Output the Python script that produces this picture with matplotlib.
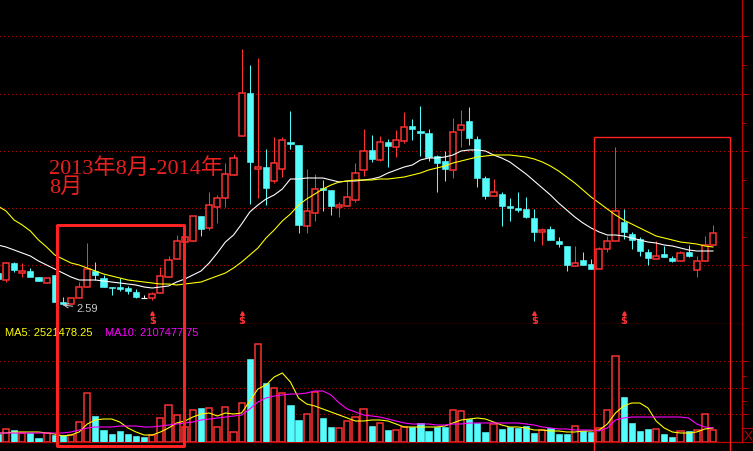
import matplotlib
matplotlib.use("Agg")
import matplotlib.pyplot as plt
from matplotlib.patches import Rectangle
from matplotlib.lines import Line2D
from matplotlib.transforms import blended_transform_factory

# ---- data ----
idx = list(range(-1, 88))

opens = [2.91, 2.84, 3.01, 2.91, 2.93, 2.87, 2.81, 2.89, 2.62, 2.60, 2.66,
         2.77, 2.93, 2.86, 2.77, 2.77, 2.76, 2.72, 2.66, 2.66, 2.71,
         2.87, 3.05, 3.22, 3.23, 3.48, 3.36, 3.57, 3.66, 3.89, 4.28,
         4.71, 3.95, 3.97, 3.83, 3.95, 4.22, 4.19, 3.38, 3.51, 3.76,
         3.74, 3.57, 3.58, 3.64, 3.94, 4.14, 4.04, 4.22, 4.17, 4.23,
         4.38, 4.33, 4.31, 4.08, 4.03, 3.94, 4.34, 4.43, 4.25, 3.86,
         3.68, 3.70, 3.58, 3.56, 3.55, 3.46, 3.32, 3.35, 3.23, 3.18,
         2.98, 3.04, 3.00, 2.95, 3.15, 3.23, 3.42, 3.30, 3.25, 3.12,
         3.05, 3.10, 3.06, 3.03, 3.12, 2.94, 3.03, 3.19]
highs = [2.92, 3.02, 3.02, 3.01, 2.96, 2.87, 2.86, 2.89, 2.67, 2.66, 2.82,
         3.21, 3.02, 2.89, 2.77, 2.86, 2.78, 2.75, 2.69, 2.72, 2.97,
         3.08, 3.29, 3.33, 3.48, 3.48, 3.72, 3.69, 4.01, 4.10, 5.15,
         4.99, 5.06, 4.15, 4.27, 4.27, 4.53, 4.19, 3.95, 3.90, 3.84,
         3.74, 3.62, 3.83, 4.01, 4.35, 4.29, 4.28, 4.25, 4.34, 4.52,
         4.45, 4.58, 4.35, 4.09, 4.13, 4.46, 4.54, 4.57, 4.28, 3.88,
         3.85, 3.72, 3.66, 3.72, 3.67, 3.55, 3.36, 3.38, 3.27, 3.18,
         3.18, 3.12, 3.05, 3.17, 3.28, 4.17, 3.55, 3.32, 3.27, 3.15,
         3.23, 3.18, 3.08, 3.13, 3.19, 3.08, 3.28, 3.39]
lows = [2.84, 2.82, 2.92, 2.87, 2.87, 2.83, 2.81, 2.62, 2.59, 2.60, 2.66,
        2.77, 2.84, 2.77, 2.69, 2.73, 2.70, 2.66, 2.66, 2.64, 2.71,
        2.87, 3.05, 3.20, 3.23, 3.28, 3.34, 3.41, 3.57, 3.89, 4.28,
        3.60, 3.66, 3.59, 3.81, 3.87, 4.15, 3.31, 3.31, 3.43, 3.53,
        3.49, 3.47, 3.58, 3.62, 3.88, 4.02, 4.03, 3.97, 4.07, 4.21,
        4.24, 4.08, 4.03, 3.72, 3.83, 3.86, 4.17, 4.19, 3.77, 3.65,
        3.68, 3.38, 3.43, 3.52, 3.46, 3.23, 3.19, 3.24, 3.17, 2.93,
        2.98, 2.99, 2.95, 2.95, 3.12, 3.23, 3.25, 3.15, 3.08, 2.99,
        3.05, 3.07, 3.02, 3.03, 3.07, 2.87, 3.03, 3.19]
closes = [2.85, 3.01, 2.94, 2.93, 2.87, 2.83, 2.86, 2.62, 2.60, 2.66, 2.77,
          2.95, 2.89, 2.77, 2.76, 2.75, 2.73, 2.67, 2.66, 2.70, 2.88,
          3.04, 3.23, 3.27, 3.48, 3.35, 3.59, 3.66, 3.90, 4.06, 4.71,
          4.02, 3.97, 3.76, 4.01, 4.24, 4.20, 3.39, 3.53, 3.75, 3.74,
          3.58, 3.59, 3.67, 3.91, 4.13, 4.05, 4.22, 4.18, 4.24, 4.37,
          4.35, 4.31, 4.07, 4.01, 3.95, 4.32, 4.39, 4.26, 3.86, 3.68,
          3.72, 3.58, 3.56, 3.54, 3.47, 3.32, 3.34, 3.24, 3.20, 2.99,
          3.01, 2.99, 2.95, 3.15, 3.23, 3.53, 3.32, 3.24, 3.13, 3.06,
          3.08, 3.07, 3.03, 3.11, 3.08, 3.03, 3.19, 3.31]

ma_white = [3.19, 3.17, 3.14, 3.11, 3.08, 3.03, 2.99, 2.95, 2.91, 2.87, 2.84,
            2.84, 2.84, 2.83, 2.82, 2.81, 2.80, 2.79, 2.77, 2.76, 2.77,
            2.78, 2.82, 2.85, 2.89, 2.93, 3.01, 3.11, 3.22, 3.29, 3.40,
            3.52, 3.59, 3.65, 3.69, 3.75, 3.85, 3.85, 3.86, 3.86, 3.86,
            3.84, 3.82, 3.83, 3.83, 3.84, 3.85, 3.87, 3.91, 3.94, 3.97,
            3.99, 4.04, 4.06, 4.06, 4.07, 4.09, 4.13, 4.14, 4.14, 4.13,
            4.09, 4.06, 4.02, 3.96, 3.90, 3.83, 3.76, 3.69, 3.61, 3.54,
            3.47, 3.41, 3.36, 3.32, 3.29, 3.29, 3.28, 3.26, 3.24, 3.22,
            3.21, 3.19, 3.18, 3.16, 3.14, 3.13, 3.13, 3.13]
ma_yellow = [3.58, 3.53, 3.44, 3.39, 3.33, 3.24, 3.17, 3.09, 3.05, 3.01, 2.99,
             2.96, 2.93, 2.90, 2.88, 2.86, 2.84, 2.83, 2.82, 2.81, 2.80,
             2.80, 2.79, 2.80, 2.81, 2.82, 2.85, 2.88, 2.91, 2.96, 3.02,
             3.09, 3.16, 3.26, 3.34, 3.43, 3.50, 3.59, 3.65, 3.70, 3.75,
             3.79, 3.82, 3.83, 3.84, 3.84, 3.84, 3.85, 3.85, 3.86, 3.87,
             3.89, 3.91, 3.94, 3.96, 3.98, 4.01, 4.03, 4.05, 4.07, 4.08,
             4.09, 4.09, 4.09, 4.08, 4.07, 4.05, 4.02, 3.98, 3.93, 3.87,
             3.81, 3.74, 3.67, 3.61, 3.55, 3.49, 3.44, 3.40, 3.36, 3.32,
             3.28, 3.26, 3.24, 3.22, 3.21, 3.20, 3.18, 3.17]

volume = [0.8, 1.3, 1.2, 0.9, 0.9, 0.4, 0.9, 0.7, 0.7, 0.7, 2.0,
          4.9, 2.6, 1.2, 0.8, 1.1, 0.8, 0.6, 0.5, 0.7, 2.4,
          3.7, 2.7, 1.5, 3.2, 3.4, 3.4, 1.5, 3.5, 1.0, 3.9,
          8.3, 9.8, 5.9, 5.4, 4.9, 3.7, 2.2, 2.8, 5.0, 2.4,
          1.5, 1.4, 2.1, 2.5, 3.3, 1.6, 1.9, 1.2, 1.2, 1.5,
          1.5, 1.9, 1.1, 1.5, 1.5, 3.2, 3.1, 2.3, 1.9, 1.0,
          1.8, 1.3, 1.5, 1.4, 1.6, 0.9, 1.2, 1.4, 0.8, 0.8,
          1.6, 1.1, 1.0, 1.4, 3.2, 8.6, 4.5, 1.9, 1.1, 1.3,
          1.3, 0.8, 0.5, 1.1, 1.1, 1.2, 2.8, 1.2]
vol_ma5 = [0.9, 0.9, 1.0, 1.0, 1.0, 1.0, 0.9, 0.8, 0.6, 0.7, 1.0,
           1.8, 2.2, 2.3, 2.3, 2.0, 1.4, 1.0, 0.7, 0.7, 1.0,
           1.4, 1.9, 2.1, 2.5, 2.8, 2.9, 2.6, 2.9, 2.8, 2.9,
           4.1, 5.3, 5.7, 6.5, 6.9, 6.0, 4.4, 3.8, 3.6, 3.3,
           3.0, 2.7, 2.4, 2.1, 2.1, 2.2, 2.2, 2.1, 1.8, 1.5,
           1.5, 1.5, 1.5, 1.5, 1.6, 1.9, 2.2, 2.3, 2.4, 2.3,
           2.0, 1.7, 1.5, 1.5, 1.4, 1.2, 1.2, 1.1, 1.1, 1.0,
           1.0, 1.1, 1.1, 1.2, 1.8, 2.9, 3.6, 3.9, 3.9, 3.4,
           2.1, 1.4, 1.0, 0.9, 0.9, 1.0, 1.3, 1.4]
vol_ma10 = [0.9, 0.9, 0.9, 0.9, 0.9, 0.9, 0.9, 0.9, 0.9, 1.0, 1.2,
            1.4, 1.5, 1.5, 1.5, 1.6, 1.6, 1.6, 1.5, 1.5, 1.6,
            1.7, 1.8, 1.9, 2.0, 2.2, 2.3, 2.4, 2.5, 2.6, 2.7,
            3.3, 4.0, 4.4, 4.6, 4.7, 4.8, 4.8, 4.9, 5.1, 5.1,
            4.7, 3.9, 3.3, 3.0, 2.7, 2.6, 2.5, 2.3, 2.1, 1.9,
            1.8, 1.8, 1.8, 1.7, 1.7, 1.8, 1.8, 1.9, 1.9, 1.9,
            1.9, 1.9, 1.9, 1.9, 1.8, 1.7, 1.5, 1.4, 1.3, 1.3,
            1.2, 1.2, 1.2, 1.1, 1.4, 2.2, 2.4, 2.5, 2.5, 2.5,
            2.5, 2.5, 2.5, 2.5, 2.4, 1.8, 1.5, 1.4]

signal_days = [18, 29, 65, 76]
low_day = 7
low_label = "2.59"
period_text = ["2013年8月-2014年", "8月"]
ma_legend = ["MA5: 2521478.25", "MA10: 2107477.75"]

price_grid = [2.99, 3.56, 4.13, 4.70, 5.28]
price_minor = [3.27, 3.84, 4.41, 4.99]
vol_grid = [2.8, 5.4, 8.1]
vol_minor = [4.1, 6.6]

# ---- style ----
RED = "#ff3232"
CYAN = "#54fcfc"
DARKRED = "#c00000"
GRIDRED = "#b00000"
W, H = 753, 452
px = 0.72  # one pixel in points

fig = plt.figure(figsize=(W / 100, H / 100), dpi=100, facecolor="black")
ax1 = fig.add_axes([0, 127 / H, 742 / W, 325 / H], facecolor="black")
ax2 = fig.add_axes([0, 9 / H, 742 / W, 118 / H], facecolor="black", sharex=ax1)

xmin, xmax = -0.738, 90.57
ax1.set_xlim(xmin, xmax)
ax1.set_ylim(2.40, 5.65)
ax2.set_ylim(0, 11.8)

bw = 0.76
for i, o, h, l, c in zip(idx, opens, highs, lows, closes):
    if c > o:
        col = RED
    elif c < o:
        col = CYAN
    else:
        col = "white"
    lo_b, hi_b = min(o, c), max(o, c)
    ax1.vlines(i, l, h, color=col, lw=px, zorder=2)
    if col == "white":
        ax1.hlines(o, i - bw / 2, i + bw / 2, color=col, lw=1.2 * px, zorder=3)
    elif col == RED:
        ax1.add_patch(Rectangle((i - bw / 2, lo_b), bw, hi_b - lo_b, facecolor="black",
                                edgecolor=col, lw=1.5 * px, zorder=3))
    else:
        ax1.add_patch(Rectangle((i - bw / 2, lo_b), bw, max(hi_b - lo_b, 0.012),
                                facecolor=col, edgecolor=col, lw=0.6 * px, zorder=3))

ax1.plot(idx, ma_white, color="white", lw=1.1 * px, zorder=4)
ax1.plot(idx, ma_yellow, color="#ffff00", lw=1.1 * px, zorder=4)

for i, o, c, v in zip(idx, opens, closes, volume):
    if c > o:
        ax2.add_patch(Rectangle((i - bw / 2, 0), bw, v, facecolor="black",
                                edgecolor=RED, lw=1.5 * px, zorder=3))
    else:
        ax2.add_patch(Rectangle((i - bw / 2, 0), bw, v, facecolor=CYAN,
                                edgecolor=CYAN, lw=0.6 * px, zorder=3))
ax2.plot(idx, vol_ma5, color="#ffff00", lw=1.1 * px, zorder=4)
ax2.plot(idx, vol_ma10, color="#ff00ff", lw=1.1 * px, zorder=4)

# grid + axes cosmetics
for ax, grid, minor in ((ax1, price_grid, price_minor), (ax2, vol_grid, vol_minor)):
    for g in grid:
        ax.axhline(g, color=GRIDRED, lw=px, ls=(0, (1, 3)), antialiased=False, zorder=1)
    ax.set_xticks([])
    ax.yaxis.tick_right()
    ax.set_yticks(grid)
    ax.set_yticks(minor, minor=True)
    ax.tick_params(axis="y", which="major", length=4, width=px, color=DARKRED,
                   labelright=False, direction="out")
    ax.tick_params(axis="y", which="minor", length=3, width=px, color=DARKRED,
                   labelright=False, direction="out")
    for s in ("top", "left"):
        ax.spines[s].set_visible(False)
    ax.spines["right"].set_color(DARKRED)
    ax.spines["right"].set_linewidth(1.3 * px)
    ax.spines["bottom"].set_color(DARKRED)
    ax.spines["bottom"].set_linewidth(1.3 * px)

# signal markers
for d in signal_days:
    ax1.text(d, 2.445, "$", color=RED, fontsize=7, fontweight="bold",
             ha="center", va="center", zorder=5)
    ax1.plot(d, 2.515, marker="^", ms=2.6, color=RED, mec=RED, zorder=5)

# low annotation
ax1.annotate(low_label, xy=(low_day, lows[low_day + 1]), xytext=(14, -3),
             textcoords="offset pixels", color="#c8c8c8", fontsize=8,
             family="Liberation Sans", va="center", ha="left",
             arrowprops=dict(arrowstyle="->", color="#c8c8c8", lw=px,
                             shrinkA=1, shrinkB=0), zorder=6)

# period text
txt_font = ["Liberation Serif", "Noto Sans CJK SC"]
ax1.text(5.3, 4.07, period_text[0], color="#e82020", fontsize=16, family=txt_font,
         va="top", ha="left", zorder=6)
ax1.text(5.3, 3.87, period_text[1], color="#e82020", fontsize=16, family=txt_font,
         va="top", ha="left", zorder=6)

# volume legend
ax2.text(5 / 742, 0.93, ma_legend[0], color="#ffff00", fontsize=8,
         family="Liberation Sans", transform=ax2.transAxes, va="center", zorder=5)
ax2.text(105 / 742, 0.93, ma_legend[1], color="#ff00ff", fontsize=8,
         family="Liberation Sans", transform=ax2.transAxes, va="center", zorder=5)

# highlight boxes (x in candle index, y in figure fraction)
tr = blended_transform_factory(ax1.transData, fig.transFigure)
box1 = Rectangle((6.28, 5 / H), 21.9 - 6.28, (447 - 226) / H, transform=tr,
                 fill=False, edgecolor="#ff2222", lw=3 * px, joinstyle="round",
                 zorder=10, clip_on=False)
fig.add_artist(box1)
box2 = Rectangle((72.36, -0.05), 89.1 - 72.36, (452 - 138) / H + 0.05, transform=tr,
                 fill=False, edgecolor="#ff2222", lw=1.4 * px, zorder=10, clip_on=False)
fig.add_artist(box2)

# little close box in the corner
fx = lambda p: p / W
fy = lambda p: 1 - p / H
fig.add_artist(Rectangle((fx(742), fy(443)), fx(11), 14 / H, transform=fig.transFigure,
                         fill=False, edgecolor=DARKRED, lw=px))
fig.add_artist(Line2D([fx(745), fx(752)], [fy(432), fy(441)], color=DARKRED, lw=px))
fig.add_artist(Line2D([fx(745), fx(752)], [fy(441), fy(432)], color=DARKRED, lw=px))

fig.savefig("out.png", dpi=100, facecolor="black")
